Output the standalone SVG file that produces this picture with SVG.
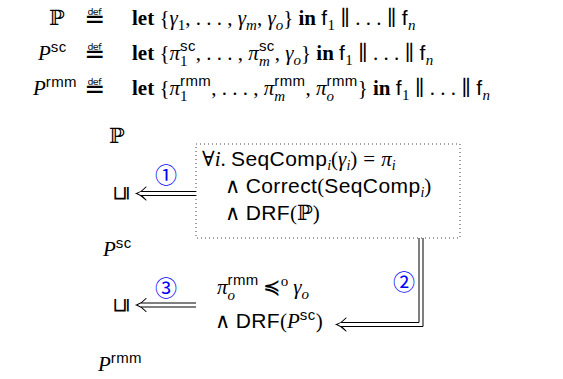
<svg xmlns="http://www.w3.org/2000/svg" width="563" height="379" viewBox="0 0 563 379">
  <style>
    text { fill: #000; }
    .m { font-family: "Liberation Serif", "DejaVu Serif", serif; font-size: 21px; }
    .it { font-style: italic; }
    .b { font-weight: bold; }
    .sf { font-family: "Liberation Sans", "DejaVu Sans", sans-serif; letter-spacing: 0.4px; }
    .s { font-size: 15px; }
    .si { font-size: 14px; font-style: italic; }
    .deq { font-family: "DejaVu Serif", "DejaVu Sans", serif; font-size: 25px; text-anchor: middle; }
    .num { font-family: "Noto Sans CJK JP", "DejaVu Sans", sans-serif; font-size: 22px; fill: #0000ff; text-anchor: middle; }
    .rel { font-family: "DejaVu Sans", sans-serif; font-size: 20px; text-anchor: middle; }
    .dbl { fill: none; stroke: #000; stroke-width: 1; }
    .head { fill: none; stroke: #000; stroke-width: 1.1; stroke-linecap: round; }
    .box { fill: none; stroke: #444; stroke-width: 1; stroke-dasharray: 1 3; }
  </style>

  <!-- definitions of the three programs -->
  <g id="defs-block">
    <text class="m" x="57" y="25" text-anchor="middle">ℙ</text>
    <text class="m it" x="38" y="60">P<tspan class="sf s" font-style="normal" dy="-8">sc</tspan></text>
    <text class="m it" x="33" y="95">P<tspan class="sf s" font-style="normal" dy="-8">rmm</tspan></text>

    <!-- "equal by definition" signs -->
    <text class="deq" x="95" y="27">≝</text>
    <text class="deq" x="95" y="62">≝</text>
    <text class="deq" x="95" y="97">≝</text>

    <text class="m" x="132" y="25"><tspan class="b">let</tspan> {<tspan class="it">γ</tspan><tspan class="s" dy="5">1</tspan><tspan dy="-5">, . . . , </tspan><tspan class="it">γ</tspan><tspan class="s it" dy="5">m</tspan><tspan dy="-5">, </tspan><tspan class="it">γ</tspan><tspan class="s it" dy="5">o</tspan><tspan dy="-5">} </tspan><tspan class="b">in</tspan> <tspan class="sf">f</tspan><tspan class="s" dy="5">1</tspan><tspan dy="-5"> ∥ . . . ∥ </tspan><tspan class="sf">f</tspan><tspan class="s it" dy="5">n</tspan></text>

    <text class="m" x="132" y="60"><tspan class="b">let</tspan> {<tspan class="it">π</tspan><tspan class="s" dy="6">1</tspan><tspan class="s sf" dx="-7.5" dy="-15">sc</tspan><tspan dy="9">, . . . , </tspan><tspan class="it">π</tspan><tspan class="s it" dy="6">m</tspan><tspan class="s sf" dx="-10.8" dy="-15">sc</tspan><tspan dy="9">, </tspan><tspan class="it">γ</tspan><tspan class="s it" dy="5">o</tspan><tspan dy="-5">} </tspan><tspan class="b">in</tspan> <tspan class="sf">f</tspan><tspan class="s" dy="5">1</tspan><tspan dy="-5"> ∥ . . . ∥ </tspan><tspan class="sf">f</tspan><tspan class="s it" dy="5">n</tspan></text>

    <text class="m" x="132" y="95"><tspan class="b">let</tspan> {<tspan class="it">π</tspan><tspan class="s" dy="6">1</tspan><tspan class="s sf" dx="-7.5" dy="-15">rmm</tspan><tspan dy="9">, . . . , </tspan><tspan class="it">π</tspan><tspan class="s it" dy="6">m</tspan><tspan class="s sf" dx="-10.8" dy="-15">rmm</tspan><tspan dy="9">, </tspan><tspan class="it">π</tspan><tspan class="s it" dy="6">o</tspan><tspan class="s sf" dx="-7.5" dy="-15">rmm</tspan><tspan dy="9">} </tspan><tspan class="b">in</tspan> <tspan class="sf">f</tspan><tspan class="s" dy="5">1</tspan><tspan dy="-5"> ∥ . . . ∥ </tspan><tspan class="sf">f</tspan><tspan class="s it" dy="5">n</tspan></text>
  </g>

  <!-- left column: programs and refinement relations -->
  <g id="node-P">
    <text class="m" x="117" y="143" text-anchor="middle" font-size="20">ℙ</text>
  </g>
  <g id="node-Psc">
    <text class="m it" x="103" y="256">P<tspan class="sf s" font-style="normal" dy="-8">sc</tspan></text>
  </g>
  <g id="node-Prmm">
    <text class="m it" x="98" y="371">P<tspan class="sf s" font-style="normal" dy="-8">rmm</tspan></text>
  </g>
  <g id="rel-1">
    <text class="rel" transform="translate(120,193) rotate(-90)" dominant-baseline="central">⊑</text>
  </g>
  <g id="rel-2">
    <text class="rel" transform="translate(120,305) rotate(-90)" dominant-baseline="central">⊑</text>
  </g>

  <!-- sequential-composition conditions -->
  <g id="node-cond-sc">
    <rect class="box" x="196" y="144" width="264" height="94"/>
    <text class="m" x="202" y="166">∀<tspan class="it">i</tspan>. <tspan class="sf">SeqComp</tspan><tspan class="si" dy="4">i</tspan><tspan dy="-4">(</tspan><tspan class="it">γ</tspan><tspan class="si" dy="4">i</tspan><tspan dy="-4">)</tspan><tspan dx="6">=</tspan><tspan class="it" dx="6">π</tspan><tspan class="si" dy="4">i</tspan></text>
    <text class="m" x="225" y="193">∧ <tspan class="sf">Correct</tspan>(<tspan class="sf">SeqComp</tspan><tspan class="si" dy="4">i</tspan><tspan dy="-4">)</tspan></text>
    <text class="m" x="225" y="220">∧ <tspan class="sf">DRF</tspan>(ℙ)</text>
  </g>

  <!-- memory-model conditions -->
  <g id="node-cond-rmm">
    <text class="m" x="217" y="294"><tspan class="it">π</tspan><tspan class="s it" dy="6">o</tspan><tspan class="s sf" dx="-7.5" dy="-15">rmm</tspan><tspan dy="9" dx="4">≼</tspan><tspan class="s" dy="-8">o</tspan><tspan class="it" dy="8" dx="5">γ</tspan><tspan class="s it" dy="5">o</tspan></text>
    <text class="m" x="215" y="328">∧ <tspan class="sf">DRF</tspan>(<tspan class="it">P</tspan><tspan class="sf s" dy="-8">sc</tspan><tspan dy="8">)</tspan></text>
  </g>

  <!-- connectors -->
  <g id="connectors">
    <path class="dbl" d="M141,191.5 H196 M141,195.5 H196"/>
    <path class="head" d="M146,187 C143,190.5 139.5,192.5 136.5,193.5 C139.5,194.5 143,196.5 146,200"/>
    <text class="num" x="166" y="183">①</text>

    <path class="dbl" d="M419,238 V322.5 H341 M423,238 V326.5 H341"/>
    <path class="head" d="M346,318 C343,321.5 339.5,323.5 336.5,324.5 C339.5,325.5 343,327.5 346,331"/>
    <text class="num" x="404" y="290">②</text>

    <path class="dbl" d="M141,303 H196 M141,307 H196"/>
    <path class="head" d="M146,298.5 C143,302 139.5,304 136.5,305 C139.5,306 143,308 146,311.5"/>
    <text class="num" x="166" y="296">③</text>
  </g>
</svg>
